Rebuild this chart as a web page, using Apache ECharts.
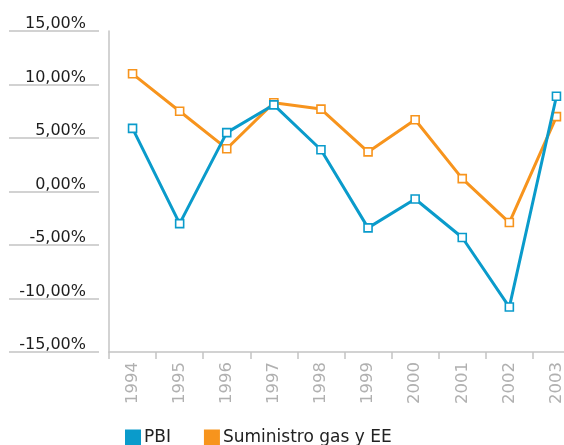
<!DOCTYPE html>
<html>
<head>
<meta charset="utf-8">
<script src="https://cdn.jsdelivr.net/npm/echarts@6/dist/echarts.min.js"></script>
<style>
html,body{margin:0;padding:0;background:#fff;}
#chart{width:564px;height:445px;}
</style>
</head>
<body>
<div id="chart"></div>
<script>
const years = ['1994','1995','1996','1997','1998','1999','2000','2001','2002','2003'];
const pbi = [5.9, -3.0, 5.5, 8.1, 3.9, -3.4, -0.7, -4.3, -10.8, 8.9];
const suministro = [11.0, 7.5, 4.0, 8.3, 7.7, 3.7, 6.7, 1.2, -2.9, 7.0];
const seriesNames = ['PBI', 'Suministro gas y EE'];
const colors = ['#0a9bcb', '#f7941d'];
const yMin = -15, yMax = 15, yStep = 5;

const FONT = 'DejaVu Sans';
const chart = echarts.init(document.getElementById('chart'), null, {renderer: 'canvas'});
function fmt(v) { return v.toFixed(2).replace('.', ',') + '%'; }

const option = {
  animation: false,
  backgroundColor: '#ffffff',
  color: colors,
  grid: {left: 109, width: 471, top: 31, height: 321, containLabel: false, outerBoundsMode: 'none'},
  legend: {
    left: 125, top: 429, padding: 0,
    itemWidth: 16, itemHeight: 16, itemGap: 33,
    icon: 'rect',
    textStyle: {fontFamily: FONT, fontSize: 17, color: '#222', padding: [5,0,0,-2]},
    data: seriesNames
  },
  xAxis: {
    type: 'category',
    data: years,
    boundaryGap: true,
    axisLine: {show: true, onZero: false, lineStyle: {color: '#c4c4c4', width: 1.5}},
    axisTick: {show: true, length: 7, lineStyle: {color: '#c4c4c4', width: 1.5}},
    axisLabel: {rotate: 90, margin: 10, fontFamily: FONT, fontSize: 16.5, color: '#b0b0b0'},
    splitLine: {show: false}
  },
  yAxis: [
    {
      type: 'value', min: yMin, max: yMax, interval: yStep,
      axisLine: {show: true, lineStyle: {color: '#c4c4c4', width: 1.5}},
      axisTick: {show: false}, axisLabel: {show: false}, splitLine: {show: false}
    },
    {
      type: 'value', min: yMin, max: yMax, interval: yStep, position: 'left', offset: 10,
      axisLine: {show: false},
      axisTick: {show: true, length: 90, lineStyle: {color: '#c4c4c4', width: 1.5}},
      axisLabel: {
        show: true, margin: 13, fontFamily: FONT, fontSize: 16, color: '#1e1e1e',
        verticalAlign: 'bottom', padding: [0,0,-1,0],
        formatter: fmt
      },
      splitLine: {show: false}
    }
  ],
  series: [
    {
      name: seriesNames[0], type: 'line', data: pbi, yAxisIndex: 0,
      symbol: 'rect', symbolSize: 8, showAllSymbol: true,
      lineStyle: {width: 3, color: colors[0]},
      itemStyle: {color: '#fff', borderColor: colors[0], borderWidth: 1.6},
      z: 3
    },
    {
      name: seriesNames[1], type: 'line', data: suministro, yAxisIndex: 0,
      symbol: 'rect', symbolSize: 8, showAllSymbol: true,
      lineStyle: {width: 3, color: colors[1]},
      itemStyle: {color: '#fff', borderColor: colors[1], borderWidth: 1.6},
      z: 2
    }
  ]
};
option.legend.data = seriesNames.map((n, i) => ({name: n, itemStyle: {color: colors[i], borderWidth: 0}}));
chart.setOption(option);
</script>
</body>
</html>
